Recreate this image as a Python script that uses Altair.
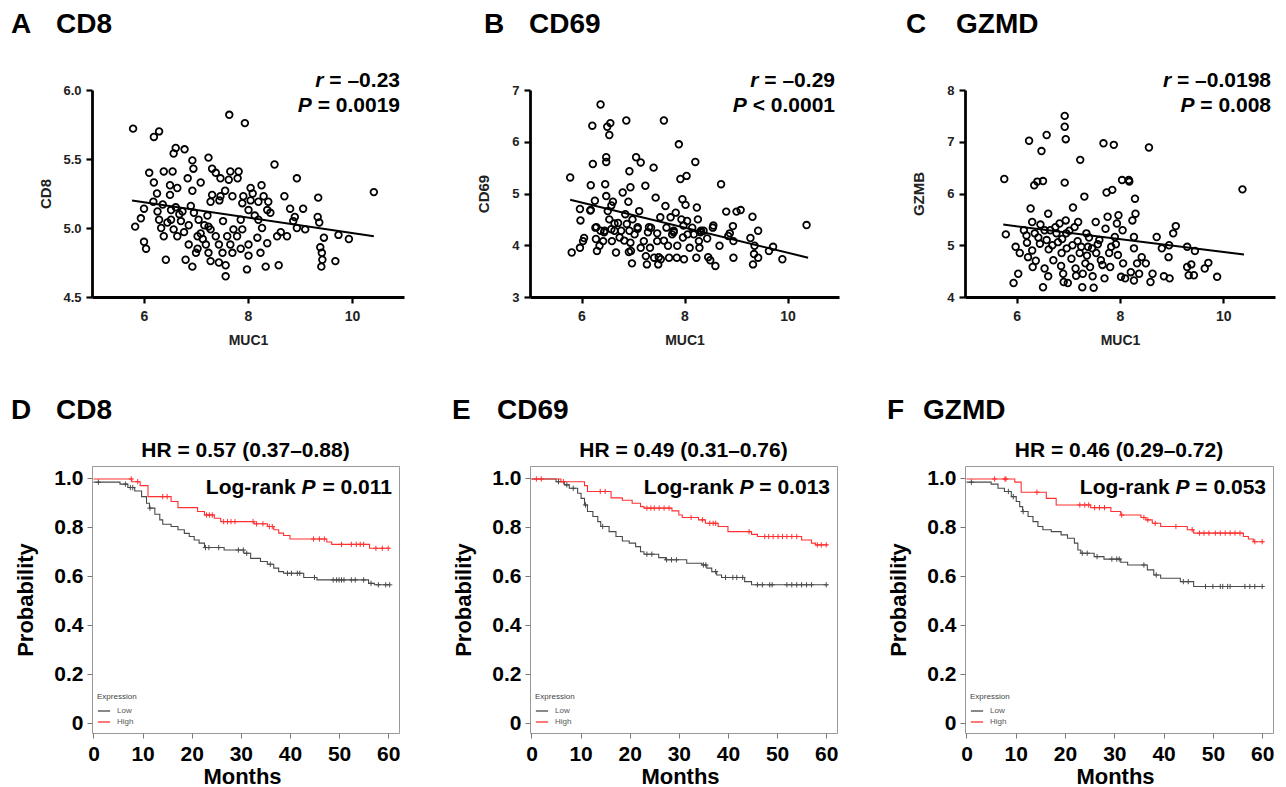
import altair as alt
import pandas as pd

FONT = "Liberation Sans"

# ---------------- Panel A: MUC1 vs CD8 ----------------
a_muc1 = [5.79, 6.19, 6.29, 7.64, 7.94,
          6.61, 6.78, 6.57, 6.93, 7.24, 7.31, 6.95, 6.10, 6.38, 6.55, 7.38, 7.66, 7.82, 8.51, 8.94,
          6.19, 6.50, 6.84, 7.09, 7.47, 7.63, 7.80, 8.05, 8.26, 6.64, 6.93, 6.25, 6.50, 7.31, 7.47,
          7.70, 7.91, 8.05, 8.30, 8.39, 8.70, 6.18, 6.36, 6.61, 7.28, 7.45, 7.89, 8.20, 6.00, 6.52,
          6.74, 6.96, 7.22, 8.01, 8.37, 8.81, 9.06, 5.94, 6.29, 6.52, 6.71, 6.86, 7.05, 7.24, 7.86,
          8.20, 8.87, 5.83, 6.33, 6.57, 6.77, 7.09, 7.28, 7.72, 7.89, 8.27, 8.94, 9.10, 6.38, 6.64,
          7.03, 7.38, 7.60, 7.79, 8.18, 8.56, 8.75, 6.00, 6.04, 6.86, 7.03, 7.19, 7.44, 7.66, 7.86,
          8.01, 8.37, 7.00, 7.24, 7.51, 7.70, 8.01, 8.24, 6.42, 6.80, 7.28, 7.44, 7.57, 6.93, 7.98,
          8.34, 8.59, 7.57,
          6.45, 6.68, 6.90, 7.16, 7.52, 8.13, 8.43, 6.26, 7.13, 7.56, 8.09, 8.63, 8.90,
          9.35, 9.34, 9.37, 9.39, 9.41, 9.43, 9.46, 9.42, 9.68, 9.74, 9.94, 10.42]
a_cd8 = [5.72, 5.66, 5.70, 5.82, 5.76,
         5.58, 5.57, 5.54, 5.49, 5.51, 5.43, 5.43, 5.40, 5.41, 5.41, 5.40, 5.41, 5.41, 5.46, 5.36,
         5.33, 5.31, 5.36, 5.33, 5.36, 5.35, 5.36, 5.29, 5.31, 5.29, 5.27, 5.25, 5.24, 5.24, 5.23,
         5.23, 5.23, 5.20, 5.23, 5.19, 5.23, 5.19, 5.17, 5.15, 5.19, 5.20, 5.18, 5.19, 5.14, 5.13,
         5.12, 5.11, 5.09, 5.13, 5.13, 5.14, 5.14, 5.07, 5.06, 5.06, 5.05, 5.02, 5.06, 5.01, 5.06,
         5.06, 5.05, 5.01, 5.00, 4.99, 4.97, 4.96, 4.99, 4.99, 4.99, 5.00, 5.00, 4.99, 4.94, 4.94,
         4.94, 4.94, 4.94, 4.94, 4.93, 4.94, 4.94, 4.90, 4.85, 4.88, 4.85, 4.88, 4.88, 4.88, 4.85,
         4.88, 4.89, 4.82, 4.82, 4.82, 4.82, 4.80, 4.82, 4.77, 4.77, 4.76, 4.75, 4.73, 4.72, 4.70,
         4.72, 4.73, 4.65,
         5.04, 5.10, 5.16, 5.02, 5.05, 5.09, 5.11, 5.12, 4.92, 5.27, 5.25, 4.97, 5.08,
         5.22, 5.08, 5.04, 4.86, 4.72, 4.77, 4.93, 4.82, 4.76, 4.95, 4.92, 5.26]
a_fit_x = [5.77, 10.42]
a_fit_y = [5.20, 4.94]

# ---------------- Panel B: MUC1 vs CD69 ----------------
b_muc1 = [5.78, 5.81, 5.97, 5.98, 5.97, 6.03, 6.05, 6.18, 6.21, 6.22, 6.18, 6.26, 6.27, 6.28, 6.30,
          6.35, 6.37, 6.37, 6.42, 6.45, 6.46, 6.48, 6.48, 6.50, 6.54, 6.56, 6.48, 6.51, 6.54, 6.58,
          6.61, 6.59, 6.64, 6.67, 6.71, 6.74, 6.77, 6.80, 6.85, 6.87, 6.88, 6.91, 6.93, 6.95, 6.93,
          6.95, 6.96, 6.98, 6.99, 7.03, 7.06, 7.09, 7.12, 7.15, 7.15, 7.21, 7.24, 7.25, 7.27, 7.29,
          7.33, 7.35, 7.40, 7.41, 7.44, 7.47, 7.49, 7.53, 7.54, 7.60, 7.63, 7.65, 7.68, 7.70, 7.73,
          7.76, 7.79, 7.83, 7.85, 7.86, 7.89, 7.92, 7.94, 7.96, 7.97, 7.99, 8.02, 8.04, 8.05, 8.06,
          8.10, 8.15, 8.18, 8.21, 8.23, 8.24, 8.26, 8.28, 8.29, 8.32, 8.37, 8.50, 8.55, 8.60, 8.68,
          8.71, 8.81, 8.85, 8.94, 8.95, 8.95, 9.01, 9.09, 9.28, 9.32, 9.33, 9.35, 9.36, 9.43, 9.43,
          9.64, 9.72, 9.90, 10.37,
          6.17, 6.29, 6.44, 6.58, 6.64, 6.83, 7.09, 7.31, 7.47, 7.60, 7.79, 7.98, 8.31, 8.44, 8.56,
          8.88, 6.92, 7.50, 8.46]
b_cd69 = [5.31, 3.86, 4.70, 4.48, 3.95, 4.08, 4.14, 5.16, 6.31, 5.57, 4.68, 4.86, 4.34, 4.12, 3.89,
          3.99, 6.72, 4.28, 4.08, 4.28, 5.18, 5.70, 5.61, 6.29, 6.13, 6.36, 4.95, 4.66, 4.50, 4.31,
          4.84, 4.08, 4.28, 3.86, 4.43, 4.15, 4.28, 5.02, 4.60, 6.41, 4.41, 4.84, 5.43, 5.12, 4.28,
          4.05, 3.89, 3.65, 4.50, 4.21, 5.70, 4.32, 4.66, 5.60, 3.95, 4.08, 5.15, 3.79, 3.63, 4.25,
          3.95, 4.34, 5.50, 3.76, 4.92, 4.08, 3.63, 4.54, 3.73, 6.41, 4.76, 4.34, 3.99, 3.76, 4.54,
          4.21, 4.28, 4.63, 3.76, 3.99, 5.95, 5.28, 4.50, 4.89, 4.15, 3.73, 4.78, 5.34, 4.47, 4.21,
          3.95, 4.34, 4.21, 5.61, 3.76, 4.73, 4.50, 4.08, 3.95, 4.28, 4.28, 3.71, 4.34, 3.60, 3.99,
          5.18, 4.65, 4.18, 4.37, 3.76, 4.08, 4.65, 4.68, 4.14, 4.55, 3.63, 3.83, 3.99, 4.28, 3.76,
          3.89, 3.97, 3.73, 4.39,
          4.67, 4.35, 4.25, 4.77, 4.42, 4.09, 4.35, 4.35, 4.23, 4.09, 4.25, 4.38, 4.25, 4.13, 4.38,
          4.23, 3.87, 3.77, 3.77]
b_fit_x = [5.78, 10.40]
b_fit_y = [4.88, 3.76]

# ---------------- Panel C: MUC1 vs GZMB ----------------
c_muc1 = [5.76, 5.79, 5.94, 6.03, 5.98, 6.06, 6.14, 6.19, 6.22, 6.24, 6.27, 6.30, 6.31, 6.34, 6.35,
          6.37, 6.40, 6.45, 6.46, 6.48, 6.51, 6.51, 6.54, 6.54, 6.58, 6.58, 6.61, 6.61, 6.65, 6.69,
          6.71, 6.77, 6.80, 6.83, 6.87, 6.90, 6.91, 6.93, 6.93, 6.93, 6.95, 6.95, 6.96, 6.97, 6.99,
          7.06, 7.08, 7.09, 7.12, 7.15, 7.19, 7.22, 7.23, 7.25, 7.27, 7.28, 7.31, 7.33, 7.35, 7.38,
          7.42, 7.46, 7.47, 7.49, 7.53, 7.54, 7.60, 7.63, 7.68, 7.70, 7.72, 7.74, 7.76, 7.79, 7.81,
          7.83, 7.85, 7.88, 7.90, 7.94, 7.96, 7.97, 8.02, 8.04, 8.05, 8.06, 8.10, 8.17, 8.18, 8.21,
          8.24, 8.27, 8.29, 8.30, 8.27, 8.27, 8.33, 8.37, 8.42, 8.50, 8.56, 8.59, 8.63, 8.71, 8.81,
          8.85, 8.94, 8.95, 8.96, 9.03, 9.08, 9.30, 9.30, 9.33, 9.38, 9.43, 9.45, 9.64, 9.71, 9.88,
          10.37,
          6.20, 6.42, 6.62, 6.75, 6.88, 7.02, 7.18, 7.40, 7.57, 7.66, 6.30, 6.86, 7.14, 7.36, 7.92]
c_gzmb = [6.28, 5.21, 4.27, 4.45, 4.97, 4.85, 5.29, 5.19, 4.77, 7.02, 5.71, 5.45, 4.58, 6.16, 5.23,
          4.70, 6.23, 5.03, 5.40, 6.82, 6.24, 4.19, 4.55, 5.29, 7.13, 5.10, 4.40, 5.61, 5.29, 5.00,
          4.71, 5.23, 5.06, 5.42, 4.85, 4.45, 4.29, 7.50, 7.29, 6.21, 7.05, 5.48, 5.23, 4.94, 4.27,
          4.74, 5.00, 5.73, 5.35, 4.41, 5.45, 4.85, 6.65, 4.97, 4.19, 4.45, 5.94, 4.65, 5.23, 4.97,
          4.58, 4.94, 4.40, 4.18, 5.45, 4.85, 5.10, 4.71, 6.97, 4.36, 5.32, 6.02, 5.55, 4.85, 4.58,
          4.97, 6.07, 6.94, 5.16, 5.42, 4.81, 5.58, 4.39, 6.26, 5.29, 4.65, 4.36, 6.26, 6.23, 4.48,
          5.48, 5.16, 5.90, 5.61, 4.94, 4.32, 4.65, 4.45, 4.77, 4.65, 6.89, 4.29, 4.45, 5.16, 4.94,
          4.40, 4.77, 5.00, 4.36, 5.23, 5.37, 4.97, 4.58, 4.42, 4.63, 4.42, 4.89, 4.55, 4.66, 4.39,
          6.08,
          5.05, 5.15, 4.92, 5.35, 5.12, 5.28, 5.08, 5.15, 5.02, 4.62, 4.90, 4.60, 4.55, 4.80, 5.02]
c_fit_x = [5.74, 10.40]
c_fit_y = [5.40, 4.82]

# ---------------- Kaplan-Meier curves (months, survival) ----------------
d_low_t = [0, 5.4, 7.0, 8.4, 9.8, 10.8, 11.4, 12.5, 13.5, 14.1, 15.8, 17.2, 18.5, 19.5, 20.5, 21.5,
           22.6, 26.6, 30.6, 32.0, 34.0, 35.4, 36.7, 37.7, 38.7, 42.8, 45.5, 56.0, 57.2, 60.3]
d_low_s = [0.984, 0.976, 0.962, 0.948, 0.925, 0.898, 0.878, 0.853, 0.83, 0.812, 0.803, 0.79, 0.775,
           0.762, 0.748, 0.735, 0.717, 0.707, 0.694, 0.673, 0.66, 0.649, 0.633, 0.619, 0.612, 0.595,
           0.585, 0.571, 0.565, 0.565]
d_high_t = [0, 7.8, 9.5, 11.1, 15.8, 17.2, 21.2, 22.6, 24.6, 25.9, 32.7, 35.4, 36.7, 37.7, 38.7,
            40.0, 47.5, 48.5, 56.2, 60.3]
d_high_s = [0.997, 0.986, 0.97, 0.925, 0.905, 0.88, 0.864, 0.85, 0.837, 0.823, 0.814, 0.803, 0.79,
            0.776, 0.766, 0.752, 0.74, 0.73, 0.714, 0.714]
d_low_cens = [1.0, 6.5, 7.5, 8.0, 11.5, 22.8, 23.5, 25.5, 29.5, 30.5, 31.2, 36.0, 39.5, 40.3, 41.5,
              42.0, 45.0, 48.8, 49.5, 50.0, 50.5, 51.0, 52.5, 53.3, 55.0, 56.5, 58.0, 59.5, 60.3]
d_high_cens = [7.7, 9.0, 14.1, 15.0, 23.0, 23.6, 24.2, 26.5, 27.3, 28.0, 28.8, 32.5, 33.2, 34.5,
               35.8, 36.4, 44.8, 46.0, 47.0, 50.5, 52.5, 53.5, 54.3, 55.0, 57.5, 58.8, 60.0]

e_low_t = [0, 5, 6.7, 7.7, 9.4, 10.1, 10.8, 11.4, 12.5, 13.5, 14.1, 15.8, 17.2, 18.5, 19.9, 21.2,
           22.2, 22.9, 25.9, 27.3, 31.6, 34.7, 35.7, 36.7, 37.7, 38.7, 43.4, 44.8, 60.3]
e_low_s = [0.997, 0.986, 0.973, 0.959, 0.939, 0.918, 0.891, 0.864, 0.844, 0.823, 0.803, 0.782, 0.762,
           0.744, 0.735, 0.721, 0.70, 0.69, 0.676, 0.667, 0.653, 0.646, 0.633, 0.619, 0.605, 0.595,
           0.578, 0.565, 0.565]
e_high_t = [0, 6, 10.8, 11.4, 16.2, 18.5, 20.5, 22.2, 22.9, 28.6, 30, 30.7, 34, 35.4, 38, 40, 44.8,
            46, 55, 57, 57.8, 60.3]
e_high_s = [0.997, 0.986, 0.97, 0.946, 0.92, 0.91, 0.898, 0.884, 0.878, 0.867, 0.85, 0.84, 0.83,
            0.816, 0.803, 0.782, 0.771, 0.762, 0.748, 0.735, 0.728, 0.728]
e_low_cens = [5.5, 7.2, 8.5, 11.0, 14.5, 23.5, 24.5, 27.5, 28.5, 29.5, 35.0, 35.5, 37.5, 39.5, 41.0,
              41.8, 43.0, 46.0, 47.0, 48.5, 49.0, 52.0, 53.0, 54.0, 55.0, 56.0, 57.0, 60.0]
e_high_cens = [1.0, 2.0, 6.5, 14.0, 15.0, 23.5, 24.3, 25.0, 26.0, 27.0, 28.0, 32.5, 34.8, 36.3,
               37.0, 37.5, 44.3, 47.5, 48.3, 49.2, 50.2, 51.1, 52.0, 53.0, 54.0, 58.2, 59.0, 60.0]

f_low_t = [0, 5, 6.4, 7.7, 9.1, 10.1, 10.8, 11.4, 12.5, 13.5, 14.5, 15.5, 17.2, 19.2, 20.5, 21.9,
           22.6, 23.2, 25.9, 27.9, 31.3, 32.7, 36.7, 38, 39.4, 43.4, 46.1, 60.3]
f_low_s = [0.984, 0.976, 0.959, 0.946, 0.925, 0.905, 0.884, 0.864, 0.844, 0.823, 0.803, 0.79, 0.782,
           0.769, 0.755, 0.735, 0.707, 0.694, 0.68, 0.67, 0.657, 0.646, 0.626, 0.605, 0.592, 0.578,
           0.558, 0.558]
f_high_t = [0, 9.8, 11.1, 16.2, 18.2, 25.2, 29.3, 31.3, 35.4, 36.4, 37.7, 39.4, 44.8, 46.1, 56.2,
            57.2, 58.2, 60.3]
f_high_s = [0.997, 0.984, 0.943, 0.918, 0.891, 0.88, 0.864, 0.85, 0.84, 0.83, 0.816, 0.803, 0.79,
            0.776, 0.762, 0.752, 0.741, 0.741]
f_low_cens = [1.0, 8.5, 9.5, 11.5, 23.5, 24.5, 26.5, 29.5, 30.5, 31.0, 36.0, 38.5, 44.0, 45.0, 48.5,
              50.0, 51.5, 52.0, 53.0, 53.5, 56.5, 57.5, 58.5, 60.0]
f_high_cens = [5.7, 7.8, 8.0, 14.3, 23.0, 24.0, 24.8, 26.0, 27.0, 28.0, 31.5, 36.0, 36.8, 38.3,
               42.5, 45.8, 47.3, 48.2, 49.2, 50.5, 51.5, 52.5, 53.5, 54.5, 55.5, 58.5, 60.0]

LOW_COLOR = "#4a4a4a"
HIGH_COLOR = "#ff3030"

# Arial/Liberation Sans Bold advance widths (1/1000 em)
W_BOLD = {' ': 278, '=': 584, '–': 556, '.': 278, '<': 584, '(': 333, ')': 333, 'P': 667, 'r': 389,
          'L': 611, 'o': 611, 'g': 611, '-': 333, 'a': 556, 'n': 611, 'k': 556}
for _d in "0123456789":
    W_BOLD[_d] = 556


def tw(s, size):
    return sum(W_BOLD.get(c, 556) for c in s) * size / 1000.0


def txt(s, x, y, size, align="left", italic=False, weight="bold", color="black"):
    return alt.Chart(pd.DataFrame({"label": [s]})).mark_text(
        align=align, baseline="middle", font=FONT, fontSize=size, fontWeight=weight,
        fontStyle="italic" if italic else "normal", color=color
    ).encode(text="label:N", x=alt.value(x), y=alt.value(y))


def scatter(letter, name, lx, nx, xs, ys, yfield, fx, fy, ydom, yvals, yfmt, r_val, p_op, p_val, w, h):
    df = pd.DataFrame({"MUC1": xs, yfield: ys})
    xsc = alt.Scale(domain=[5, 11], nice=False, zero=False)
    ysc = alt.Scale(domain=ydom, nice=False, zero=False)
    common = dict(grid=False, domainColor="black", domainWidth=2.8, tickColor="black", tickWidth=2.2,
                  tickSize=6, labelFont=FONT, labelFontWeight="bold", labelColor="#222",
                  labelFlush=False, labelOverlap=False, titleFont=FONT, titleFontWeight="bold",
                  titleColor="#222", titleAlign="center", titleBaseline="middle")
    xaxis = alt.Axis(values=[6, 8, 10], format="d", labelFontSize=14, labelPadding=6, title="MUC1",
                     titleFontSize=14, titleX=w / 2, titleY=43, **common)
    yaxis = alt.Axis(values=yvals, format=yfmt, labelFontSize=13, labelPadding=5, title=yfield,
                     titleFontSize=15, titleX=-47, titleY=h / 2, titleAngle=270, **common)
    pts = alt.Chart(df).mark_point(shape="circle", filled=False, size=44, strokeWidth=1.8,
                                   color="black", opacity=1).encode(
        x=alt.X("MUC1:Q", scale=xsc, axis=xaxis),
        y=alt.Y(f"{yfield}:Q", scale=ysc, axis=yaxis))
    fit = alt.Chart(pd.DataFrame({"MUC1": fx, yfield: fy})).mark_line(
        color="black", strokeWidth=2).encode(x="MUC1:Q", y=f"{yfield}:Q")
    rx = w - 4
    s1 = " = " + r_val
    s2 = f" {p_op} {p_val}"
    layers = [
        pts, fit,
        txt(letter, lx, -65, 28), txt(name, nx, -65, 28),
        txt(s1, rx, -9, 21, "right"), txt("r", rx - tw(s1, 21), -9, 21, "right", italic=True),
        txt(s2, rx, 16, 21, "right"), txt("P", rx - tw(s2, 21), 16, 21, "right", italic=True),
    ]
    return alt.layer(*layers).properties(width=w, height=h)


def step_value(ts, ss, t):
    v = ss[0]
    for ti, si in zip(ts, ss):
        if ti <= t:
            v = si
    return v


def km(letter, name, lx, nx, lt, ls, ht, hs, lc, hc, hr, p_val, w, h):
    line_df = pd.DataFrame({"t": lt + ht, "s": ls + hs,
                            "Expression": ["Low"] * len(lt) + ["High"] * len(ht)})
    cen_df = pd.DataFrame({
        "t": lc + hc,
        "s": [step_value(lt, ls, t) for t in lc] + [step_value(ht, hs, t) for t in hc],
        "Expression": ["Low"] * len(lc) + ["High"] * len(hc)})
    xsc = alt.Scale(domain=[-0.3, 62.2], nice=False, zero=False)
    ysc = alt.Scale(domain=[-0.04, 1.05], nice=False, zero=False)
    common = dict(grid=False, domain=False, tickColor="#777", tickWidth=1, tickSize=5,
                  labelFont=FONT, labelFontWeight="bold", labelColor="black", labelFontSize=21,
                  labelFlush=False, labelOverlap=False, titleFont=FONT, titleFontWeight="bold",
                  titleColor="black", titleFontSize=22, titleAlign="center", titleBaseline="middle")
    xaxis = alt.Axis(values=[0, 10, 20, 30, 40, 50, 60], format="d", labelPadding=5,
                     title="Months", titleX=150, titleY=43, **common)
    yaxis = alt.Axis(values=[0, 0.2, 0.4, 0.6, 0.8, 1.0],
                     labelExpr="datum.value == 0 ? '0' : format(datum.value, '.1f')",
                     labelPadding=4, title="Probability", titleX=-67, titleY=h / 2,
                     titleAngle=270, **common)
    cscale = alt.Scale(domain=["Low", "High"], range=[LOW_COLOR, HIGH_COLOR])
    legend = alt.Legend(title="Expression", orient="none", legendX=5, legendY=227,
                        direction="vertical", symbolType="stroke", symbolSize=150,
                        symbolStrokeWidth=1.3, labelFont=FONT, labelFontSize=8,
                        labelColor="#555", titleFont=FONT, titleFontSize=8,
                        titleFontWeight="normal", titleColor="#444", rowPadding=0,
                        titlePadding=3, labelOffset=6, padding=0)
    lines = alt.Chart(line_df).mark_line(interpolate="step-after", strokeWidth=1.1).encode(
        x=alt.X("t:Q", scale=xsc, axis=xaxis),
        y=alt.Y("s:Q", scale=ysc, axis=yaxis),
        color=alt.Color("Expression:N", scale=cscale, legend=legend))
    cens = alt.Chart(cen_df).mark_point(shape="M-1,0H1M0,-1V1", filled=False, size=28,
                                        strokeWidth=1, opacity=1).encode(
        x="t:Q", y="s:Q",
        color=alt.Color("Expression:N", scale=cscale, legend=legend))
    rx = w - 7
    s_tail = " = " + p_val
    p_right = rx - tw(s_tail, 21)
    lr_right = p_right - tw("P", 21) - tw(" ", 21)
    layers = [
        lines, cens,
        txt(letter, lx, -55, 28), txt(name, nx, -55, 28),
        txt(hr, w / 2, -15, 21, "center"),
        txt(s_tail, rx, 22, 21, "right"),
        txt("P", p_right, 22, 21, "right", italic=True),
        txt("Log-rank", lr_right, 22, 21, "right"),
    ]
    return alt.layer(*layers).properties(
        width=w, height=h, view=alt.ViewBackground(stroke="#999", strokeWidth=1))


A = scatter("A", "CD8", -81, -36, a_muc1, a_cd8, "CD8", a_fit_x, a_fit_y, [4.5, 6.0],
            [4.5, 5.0, 5.5, 6.0], ".1f", "–0.23", "=", "0.0019", 312, 207)
B = scatter("B", "CD69", -46, -1, b_muc1, b_cd69, "CD69", b_fit_x, b_fit_y, [3, 7],
            [3, 4, 5, 6, 7], "d", "–0.29", "<", "0.0001", 309, 207)
C = scatter("C", "GZMD", -59, -9, c_muc1, c_gzmb, "GZMB", c_fit_x, c_fit_y, [4, 8],
            [4, 5, 6, 7, 8], "d", "–0.0198", "=", "0.008", 310, 207)
D = km("D", "CD8", -81, -36, d_low_t, d_low_s, d_high_t, d_high_s, d_low_cens, d_high_cens,
       "HR = 0.57 (0.37–0.88)", "0.011", 307, 267)
E = km("E", "CD69", -78, -33, e_low_t, e_low_s, e_high_t, e_high_s, e_low_cens, e_high_cens,
       "HR = 0.49 (0.31–0.76)", "0.013", 307, 267)
F = km("F", "GZMD", -78, -42, f_low_t, f_low_s, f_high_t, f_high_s, f_low_cens, f_high_cens,
       "HR = 0.46 (0.29–0.72)", "0.053", 308, 267)

chart = alt.concat(
    A, B, C, D, E, F, columns=3, spacing={"row": 169, "column": 126}, bounds="flush", align="each"
).resolve_scale(color="independent").resolve_legend(color="independent").properties(
    padding={"left": 2, "top": 3, "right": 2, "bottom": 2}
).configure(font=FONT).configure_view(strokeWidth=0)

chart.save("out.html", embed_options={"renderer": "svg", "actions": False})
